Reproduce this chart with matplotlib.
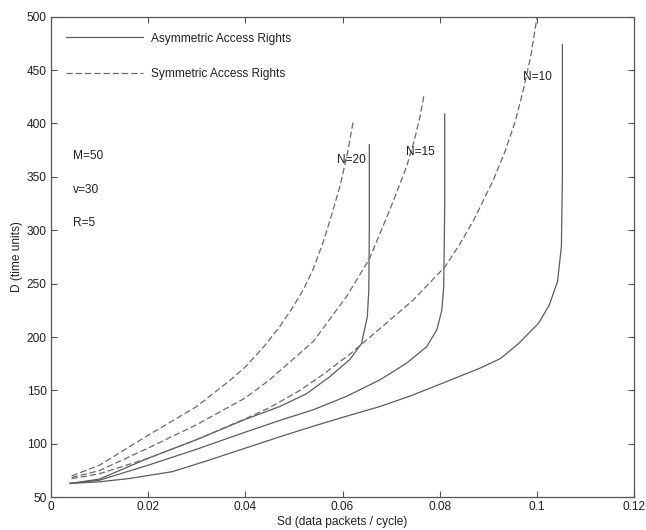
import matplotlib
matplotlib.use("Agg")
import matplotlib.pyplot as plt

plt.rcParams['font.family'] = ['Liberation Sans', 'DejaVu Sans']

# ---------------- data ----------------
# Asymmetric access rights (solid)
asym_n10_x = [0.004, 0.010, 0.016, 0.025, 0.032, 0.040, 0.047, 0.054, 0.0605, 0.0677, 0.074,
              0.0801, 0.0883, 0.0925, 0.0962, 0.1003, 0.1025, 0.1042, 0.1050, 0.1052, 0.1052]
asym_n10_y = [63, 64.5, 67.5, 74, 84, 96, 106.5, 116.6, 125.5, 135, 145,
              156, 171, 180, 194, 213, 230, 252, 285, 350, 474]

asym_n15_x = [0.004, 0.010, 0.020, 0.030, 0.040, 0.0471, 0.0540, 0.0608, 0.0677, 0.0732,
              0.0773, 0.0794, 0.0804, 0.0808, 0.0810, 0.0810]
asym_n15_y = [63, 66, 80, 95, 111, 122, 132, 144.5, 160, 175.7,
              191, 207, 225, 247, 320, 409]

asym_n20_x = [0.004, 0.010, 0.020, 0.030, 0.040, 0.0471, 0.0526, 0.0574, 0.0615, 0.0639,
              0.0651, 0.0654, 0.0655, 0.0655]
asym_n20_y = [63, 67, 86.5, 104, 123, 135, 147, 163, 179, 194,
              219, 244, 300, 380]

# Symmetric access rights (dashed)
sym_n10_x = [0.0043, 0.010, 0.020, 0.030, 0.040, 0.045, 0.0512, 0.056, 0.0615, 0.0677,
             0.0746, 0.0811, 0.0841, 0.0869, 0.0910, 0.0935, 0.0955, 0.0972, 0.0987, 0.1000]
sym_n10_y = [67.5, 72, 86.5, 104, 123.5, 134, 150, 165, 184, 208,
             235, 266, 287, 309, 347, 375, 402, 432, 463, 500]

sym_n15_x = [0.0043, 0.010, 0.020, 0.030, 0.040, 0.045, 0.050, 0.054, 0.0609, 0.0655,
             0.0698, 0.0732, 0.0748, 0.0760, 0.0768]
sym_n15_y = [68.5, 75, 96, 118, 143, 160, 180, 196, 238.5, 273,
             320, 360, 385, 408, 428]

sym_n20_x = [0.0043, 0.010, 0.020, 0.030, 0.037, 0.040, 0.044, 0.0471, 0.0495, 0.0519,
             0.0540, 0.0561, 0.0580, 0.0595, 0.0610, 0.0622]
sym_n20_y = [70, 80, 108, 135, 160, 172, 192, 210, 226, 244,
             264, 290, 318, 342, 372, 402]

curve_labels = ["N=20", "N=15", "N=10"]
curve_label_x = [0.0589, 0.0730, 0.0971]
curve_label_y = [366, 373, 444]

param_labels = ["M=50", "v=30", "R=5"]
param_label_x = [0.0045, 0.0045, 0.0045]
param_label_y = [370, 338, 307]

legend_labels = ["Asymmetric Access Rights", "Symmetric Access Rights"]

x_ticks = [0, 0.02, 0.04, 0.06, 0.08, 0.1, 0.12]
x_tick_labels = ["0", "0.02", "0.04", "0.06", "0.08", "0.1", "0.12"]
y_ticks = [50, 100, 150, 200, 250, 300, 350, 400, 450, 500]

x_label = "Sd (data packets / cycle)"
y_label = "D (time units)"

# ---------------- plot ----------------
line_col = "#5c5c5c"
text_col = "#222222"
fs = 8.6

fig = plt.figure(figsize=(6.46, 5.30), dpi=100)
ax = fig.add_axes([0.0785, 0.0617, 0.9035, 0.9068])

dash = (0, (5, 2.4))
h_solid = None
for xs, ys in [(asym_n10_x, asym_n10_y), (asym_n15_x, asym_n15_y), (asym_n20_x, asym_n20_y)]:
    h_solid, = ax.plot(xs, ys, color=line_col, lw=0.9, solid_joinstyle='round')
h_dash = None
for xs, ys in [(sym_n10_x, sym_n10_y), (sym_n15_x, sym_n15_y), (sym_n20_x, sym_n20_y)]:
    h_dash, = ax.plot(xs, ys, color="#6a6a6a", lw=0.9, linestyle=dash)

for t, x, y in zip(curve_labels, curve_label_x, curve_label_y):
    ax.text(x, y, t, fontsize=fs, color=text_col, ha='left', va='center')
for t, x, y in zip(param_labels, param_label_x, param_label_y):
    ax.text(x, y, t, fontsize=fs, color=text_col, ha='left', va='center')

leg = ax.legend([h_solid, h_dash], legend_labels, loc='upper left',
                bbox_to_anchor=(0.027, 0.967), borderaxespad=0, borderpad=0,
                frameon=False, handlelength=6.4, handletextpad=0.7,
                labelspacing=2.0, fontsize=fs)
for t in leg.get_texts():
    t.set_color(text_col)

ax.set_xlim(0, 0.12)
ax.set_ylim(50, 500)
ax.set_xticks(x_ticks)
ax.set_xticklabels(x_tick_labels)
ax.set_yticks(y_ticks)
ax.tick_params(direction='in', length=4, width=0.8, top=True, right=True,
               labelsize=fs, colors="#555555", labelcolor=text_col, pad=3)
for s in ax.spines.values():
    s.set_color("#555555")
    s.set_linewidth(0.9)

ax.set_xlabel(x_label, fontsize=fs, color=text_col, labelpad=2)
ax.set_ylabel(y_label, fontsize=fs, color=text_col, labelpad=3)

fig.savefig("out.png", dpi=100)
